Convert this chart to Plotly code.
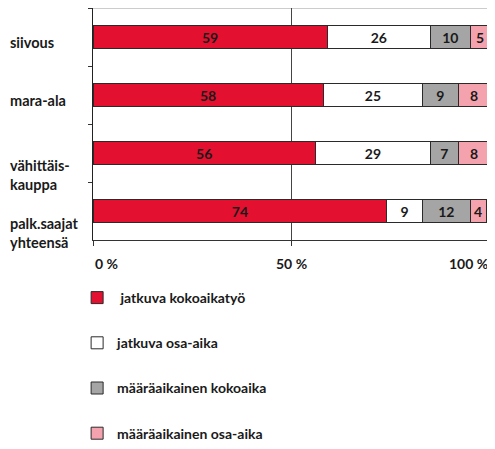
import plotly.graph_objects as go

categories = ["siivous", "mara-ala", "vähittäis-<br>kauppa", "palk.saajat<br>yhteensä"]
series_names = ["\u00a0jatkuva kokoaikatyö", "jatkuva osa-aika", "määräaikainen kokoaika", "määräaikainen osa-aika"]
jatkuva_koko = [59, 58, 56, 74]
jatkuva_osa = [26, 25, 29, 9]
maara_koko = [10, 9, 7, 12]
maara_osa = [5, 8, 8, 4]
x_ticks = [0, 50, 100]
x_tick_labels = ["0 %", "50 %", "100 %"]

colors = ["#E3102F", "#FFFFFF", "#A5A5A5", "#F4A3AE"]
series = [jatkuva_koko, jatkuva_osa, maara_koko, maara_osa]

FONT = "Lato"
TXT = "#1a1a1a"

fig = go.Figure()
for i, (name, vals, col) in enumerate(zip(series_names, series, colors)):
    fig.add_trace(go.Bar(
        y=categories, x=vals, name=name, orientation="h",
        marker=dict(color=col, line=dict(color="#2a2a2a", width=1)),
        text=[str(v) for v in vals], textposition="inside", textangle=0,
        insidetextanchor="middle", constraintext="none",
        textfont=dict(family=FONT, size=14, color=TXT, weight="bold"),
        legendgroup=f"g{i}", hoverinfo="skip",
    ))

annotations = []
for c in categories:
    annotations.append(dict(
        x=-0.214, xref="paper", y=c, yref="y", text=c, showarrow=False,
        xanchor="left", yanchor="top", align="left",
        yshift=5 if "<br>" not in c else -2,
        font=dict(family=FONT, size=14.5, color=TXT, weight="bold"),
    ))
anchors = ["left", "center", "right"]
for v, t, a in zip(x_ticks, x_tick_labels, anchors):
    annotations.append(dict(
        x=v, xref="x", y=0, yref="paper", text=t, showarrow=False,
        xanchor=a, yanchor="top", yshift=-13,
        font=dict(family=FONT, size=14, color=TXT, weight="bold"),
    ))

fig.update_layout(
    width=487, height=441,
    margin=dict(l=85, r=5, t=0, b=209),
    paper_bgcolor="white", plot_bgcolor="white",
    barmode="stack", bargap=0.6,
    showlegend=True,
    legend=dict(
        x=-0.040, xanchor="left", y=-0.9009, yanchor="bottom",
        font=dict(family=FONT, size=14, color=TXT, weight="bold"),
        tracegroupgap=24, traceorder="grouped", bgcolor="rgba(0,0,0,0)",
    ),
    font=dict(family=FONT, size=14, color=TXT),
    xaxis=dict(
        range=[0, 100], tickvals=x_ticks, showticklabels=False,
        ticks="outside", ticklen=5, tickcolor="#333",
        showgrid=True, gridcolor="#444", gridwidth=1,
        showline=True, linecolor="#333", linewidth=1, zeroline=False,
        fixedrange=True,
    ),
    yaxis=dict(
        categoryorder="array", categoryarray=categories, autorange="reversed",
        showticklabels=False, tickson="boundaries", ticks="outside",
        ticklen=4, tickcolor="#333", showgrid=False,
        showline=True, linecolor="#222", linewidth=1, zeroline=False,
        fixedrange=True,
    ),
    annotations=annotations,
    shapes=[dict(type="line", xref="paper", yref="paper", x0=0, x1=1, y0=1, y1=1,
                 line=dict(color="#999", width=1), layer="below")],
    uniformtext=dict(minsize=14, mode="show"),
)

fig.write_html("out.html")
